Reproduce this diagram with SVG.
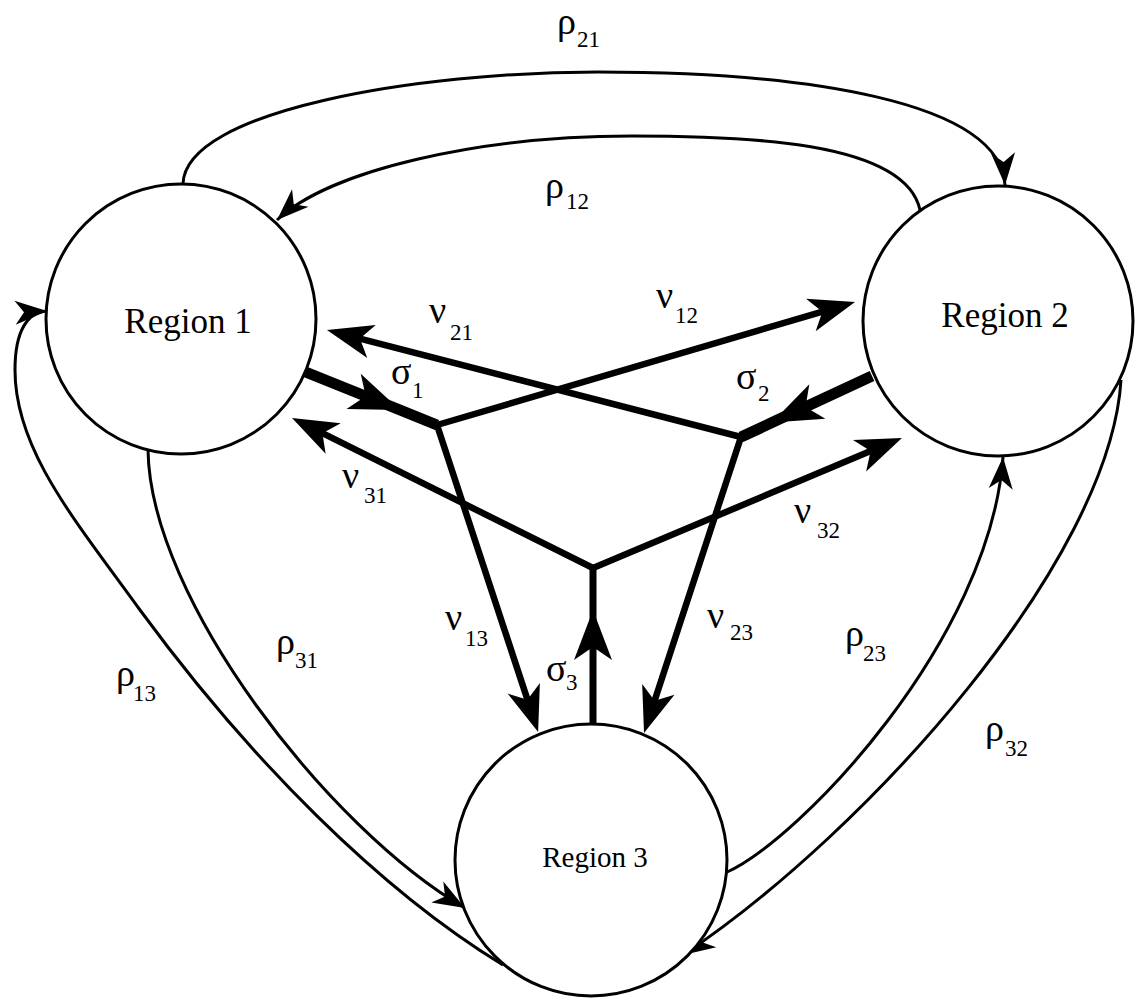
<svg xmlns="http://www.w3.org/2000/svg" width="1135" height="1000" viewBox="0 0 1135 1000">
<style>
.thin{fill:none;stroke:#000;stroke-width:3;}
.nu{fill:none;stroke:#000;stroke-width:6.5;stroke-linecap:round;}
.sig{fill:none;stroke:#000;stroke-width:11;stroke-linecap:butt;}
.node{fill:#fff;stroke:#000;stroke-width:3;}
.nt{font-family:"Liberation Serif","Times New Roman",serif;text-anchor:middle;fill:#000;}
.g{font-family:"Liberation Serif","Times New Roman",serif;font-size:38px;fill:#000;}
.s{font-family:"Liberation Serif","Times New Roman",serif;font-size:23px;fill:#000;}
</style>
<defs>
<marker id="ah" markerUnits="userSpaceOnUse" markerWidth="80" markerHeight="80" refX="0" refY="0" orient="auto" overflow="visible">
<path d="M0,0 L-32,-12 L-23,0 L-32,12 Z" fill="#000"/>
</marker>
<marker id="ahT" markerUnits="userSpaceOnUse" markerWidth="120" markerHeight="120" refX="0" refY="0" orient="auto" overflow="visible">
<path d="M25,0 L-21,-17 L-9,0 L-21,17 Z" fill="#000"/>
</marker>
<marker id="ahS" markerUnits="userSpaceOnUse" markerWidth="120" markerHeight="120" refX="0" refY="0" orient="auto" overflow="visible">
<path d="M0,0 L-50,-19 L-37,0 L-50,19 Z" fill="#000"/>
</marker>
</defs>
<g id="connectors">
<path id="rho21" class="thin" marker-end="url(#ah)" d="M183,184 C185,110 420,72 598,72 C800,72 1000,100 1005,185"/>
<path id="rho12" class="thin" marker-end="url(#ah)" d="M920,210 C905,140 740,136 631,136 C480,136 330,170 277,220"/>
<path id="rho13" class="thin" marker-end="url(#ah)" d="M503,965 C380,890 250,760 140,610 C75,520 15,450 15,370 C15,330 28,312 47,311"/>
<path id="rho31" class="thin" marker-end="url(#ah)" d="M148,450 C150,600 330,830 465,908"/>
<path id="rho23" class="thin" marker-end="url(#ah)" d="M725,873 C800,840 990,640 1003,457"/>
<path id="rho32" class="thin" marker-end="url(#ah)" d="M1121,380 C1110,560 870,830 683,955"/>
<path id="nu12" class="nu" marker-end="url(#ahT)" d="M437,425 L831,309.1"/>
<path id="nu21" class="nu" marker-end="url(#ahT)" d="M741,437 L351.2,336.3"/>
<path id="nu13" class="nu" marker-end="url(#ahT)" d="M437,425 L530.3,708.2"/>
<path id="nu31" class="nu" marker-end="url(#ahT)" d="M593,568 L314.4,429.2"/>
<path id="nu32" class="nu" marker-end="url(#ahT)" d="M593,568 L878.9,447.6"/>
<path id="nu23" class="nu" marker-end="url(#ahT)" d="M741,437 L651.8,709.3"/>
<path id="sigma1" class="sig" marker-mid="url(#ahS)" d="M303,371 L400,410 L437,425"/>
<path id="sigma2" class="sig" marker-mid="url(#ahS)" d="M872,376 L772,422.6 L741,437"/>
<path id="sigma3" class="sig" style="stroke-width:7" marker-mid="url(#ahS)" d="M593,724 L593,610 L593,568"/>
</g>
<g id="labels">
<text class="g" x="557" y="34">ρ<tspan class="s" x="577" y="47">21</tspan></text>
<text class="g" x="545" y="198">ρ<tspan class="s" x="566" y="209">12</tspan></text>
<text class="g" x="429" y="323">ν<tspan class="s" x="450" y="340">21</tspan></text>
<text class="g" x="656" y="308">ν<tspan class="s" x="675" y="323">12</tspan></text>
<text class="g" x="391" y="384">σ<tspan class="s" x="412" y="398">1</tspan></text>
<text class="g" x="736" y="389">σ<tspan class="s" x="758" y="401">2</tspan></text>
<text class="g" x="342" y="488">ν<tspan class="s" x="364" y="503">31</tspan></text>
<text class="g" x="794" y="523">ν<tspan class="s" x="817" y="538">32</tspan></text>
<text class="g" x="445" y="630">ν<tspan class="s" x="465" y="646">13</tspan></text>
<text class="g" x="546" y="681">σ<tspan class="s" x="566" y="690">3</tspan></text>
<text class="g" x="707" y="628">ν<tspan class="s" x="730" y="640">23</tspan></text>
<text class="g" x="845" y="646">ρ<tspan class="s" x="863" y="661">23</tspan></text>
<text class="g" x="985" y="741">ρ<tspan class="s" x="1005" y="756">32</tspan></text>
<text class="g" x="116" y="686">ρ<tspan class="s" x="133" y="701">13</tspan></text>
<text class="g" x="276" y="654">ρ<tspan class="s" x="295" y="668">31</tspan></text>
</g>
<g id="region1">
<circle class="node" cx="181" cy="319" r="135"/>
<text class="nt" x="188" y="333" font-size="35">Region 1</text>
</g>
<g id="region2">
<circle class="node" cx="998" cy="321" r="135"/>
<text class="nt" x="1005" y="327" font-size="35">Region 2</text>
</g>
<g id="region3">
<circle class="node" cx="591" cy="860" r="136"/>
<text class="nt" x="595" y="867" font-size="29">Region 3</text>
</g>
</svg>
